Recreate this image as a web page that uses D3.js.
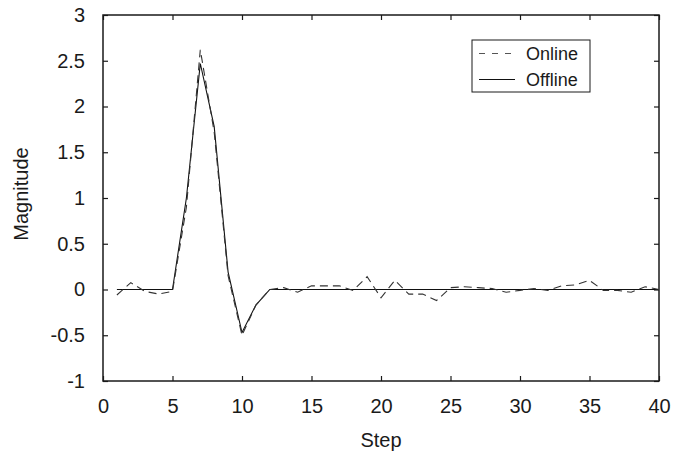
<!DOCTYPE html>
<html>
<head>
<meta charset="utf-8">
<script src="https://cdn.jsdelivr.net/npm/d3@7"></script>
<style>
  html, body { margin: 0; padding: 0; background: #fff; }
  svg { display: block; font-family: "Liberation Sans", Arial, sans-serif; }
</style>
</head>
<body>
<svg id="chart" width="673" height="453"></svg>
<script>
// Step index 1..40
const steps = d3.range(1, 41);

// Offline estimate
const offline = [0, 0, 0, 0, 0, 1.0, 2.47, 1.78, 0.19, -0.47,
                 -0.17, 0, 0, 0, 0, 0, 0, 0, 0, 0,
                 0, 0, 0, 0, 0, 0, 0, 0, 0, 0,
                 0, 0, 0, 0, 0, 0, 0, 0, 0, 0];

// Online estimate
const online = [-0.06, 0.075, -0.02, -0.05, -0.02, 0.9, 2.62, 1.72, 0.15, -0.5,
                -0.17, 0, 0.02, -0.03, 0.04, 0.04, 0.04, -0.01, 0.14, -0.09,
                0.1, -0.05, -0.05, -0.12, 0.02, 0.03, 0.02, 0.01, -0.03, -0.01,
                0.01, -0.01, 0.04, 0.05, 0.1, -0.01, -0.01, -0.03, 0.03, 0];

const xTicks = [0, 5, 10, 15, 20, 25, 30, 35, 40];
const yTicks = [-1, -0.5, 0, 0.5, 1, 1.5, 2, 2.5, 3];

const margin = { left: 103, right: 14, top: 15, bottom: 72 };
const W = 673, H = 453;
const svg = d3.select("#chart");
const g = svg.append("g");

const x = d3.scaleLinear().domain([0, 40]).range([margin.left, W - margin.right]);
const y = d3.scaleLinear().domain([-1, 3]).range([H - margin.bottom, margin.top]);

const ink = "#1a1a1a";
const tickLen = 5;
const fontSize = 20;

// Axes with inward ticks, mirrored on all four sides
const fmt = d => String(d);
g.append("g").attr("transform", `translate(0,${y(-1)})`)
  .call(d3.axisBottom(x).tickValues(xTicks).tickSizeInner(-tickLen).tickSizeOuter(0).tickPadding(18).tickFormat(fmt));
g.append("g").attr("transform", `translate(0,${y(3)})`)
  .call(d3.axisTop(x).tickValues(xTicks).tickSizeInner(-tickLen).tickSizeOuter(0).tickFormat(""));
g.append("g").attr("transform", `translate(${x(0)},0)`)
  .call(d3.axisLeft(y).tickValues(yTicks).tickSizeInner(-tickLen).tickSizeOuter(0).tickPadding(18).tickFormat(fmt));
g.append("g").attr("transform", `translate(${x(40)},0)`)
  .call(d3.axisRight(y).tickValues(yTicks).tickSizeInner(-tickLen).tickSizeOuter(0).tickFormat(""));

g.selectAll(".domain").remove();
g.selectAll(".tick line").attr("stroke", ink).attr("stroke-width", 1.2);
g.selectAll(".tick text").attr("fill", ink).attr("font-size", fontSize)
  .attr("font-family", "Liberation Sans, Arial, sans-serif");

// Frame
g.append("rect")
  .attr("x", x(0)).attr("y", y(3))
  .attr("width", x(40) - x(0)).attr("height", y(-1) - y(3))
  .attr("fill", "none").attr("stroke", ink).attr("stroke-width", 1.5);

// Series
const line = d3.line().x((d, i) => x(steps[i])).y(d => y(d));

g.append("path").datum(offline)
  .attr("d", line).attr("fill", "none")
  .attr("stroke", "#111").attr("stroke-width", 1.1);

g.append("path").datum(online)
  .attr("d", line).attr("fill", "none")
  .attr("stroke", "#333").attr("stroke-width", 1.1)
  .attr("stroke-dasharray", "8,5");

// Axis titles
svg.append("text")
  .attr("x", x(20)).attr("y", 447)
  .attr("text-anchor", "middle").attr("font-size", fontSize).attr("fill", ink)
  .text("Step");
svg.append("text")
  .attr("transform", `translate(27.5,194) rotate(-90)`)
  .attr("text-anchor", "middle").attr("font-size", fontSize).attr("fill", ink)
  .text("Magnitude");

// Legend
const lg = svg.append("g");
lg.append("rect").attr("x", 472).attr("y", 40).attr("width", 118).attr("height", 52)
  .attr("fill", "#fff").attr("stroke", ink).attr("stroke-width", 1);
const items = [
  { label: "Online", dash: "6,7", color: "#555" },
  { label: "Offline", dash: null, color: "#111" }
];
items.forEach((it, i) => {
  const yy = 53.5 + i * 26;
  lg.append("line").attr("x1", 479).attr("x2", 515).attr("y1", yy).attr("y2", yy)
    .attr("stroke", it.color).attr("stroke-width", 1)
    .attr("stroke-dasharray", it.dash);
  lg.append("text").attr("x", 526).attr("y", yy + 6.5)
    .attr("font-size", 18).attr("fill", ink).text(it.label);
});
</script>
</body>
</html>
